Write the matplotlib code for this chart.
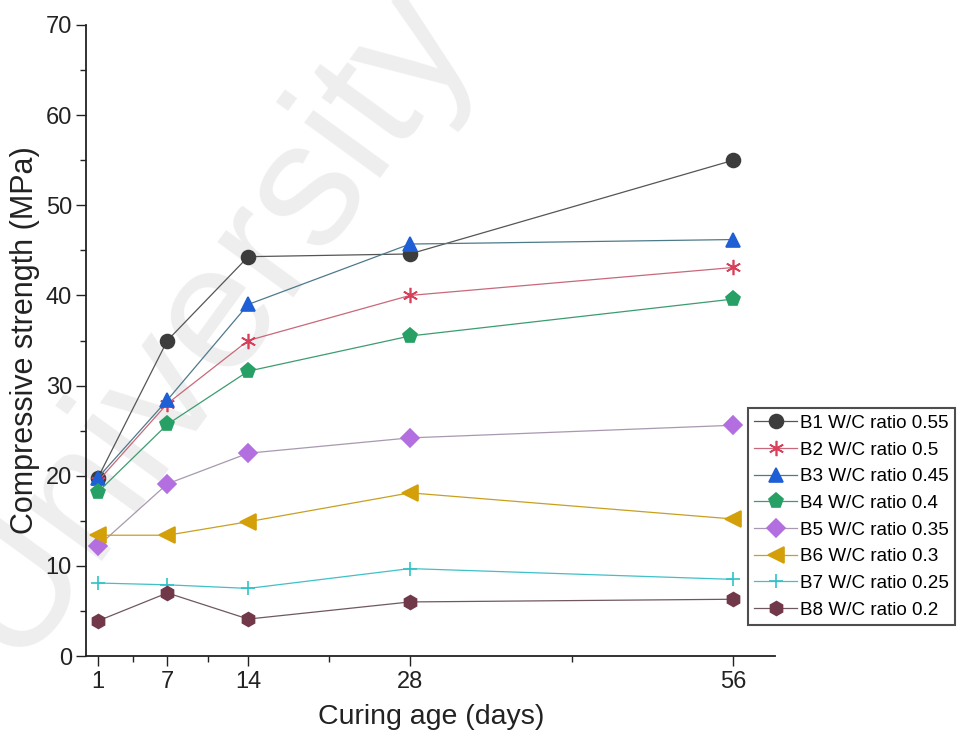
import numpy as np
import matplotlib
matplotlib.use("Agg")
import matplotlib.pyplot as plt

plt.rcParams['font.family'] = ['Liberation Sans', 'DejaVu Sans']

# curing age (days)
days = [1, 7, 14, 28, 56]
day_labels = ['1', '7', '14', '28', '56']

# compressive strength (MPa)
b1 = [19.8, 35.0, 44.3, 44.6, 55.0]
b2 = [19.4, 28.0, 35.0, 40.0, 43.1]
b3 = [19.8, 28.4, 39.0, 45.7, 46.2]
b4 = [18.2, 25.7, 31.6, 35.5, 39.6]
b5 = [12.2, 19.1, 22.5, 24.2, 25.6]
b6 = [13.4, 13.4, 14.9, 18.1, 15.2]
b7 = [8.1, 7.9, 7.5, 9.7, 8.5]
b8 = [3.9, 7.0, 4.1, 6.0, 6.3]

labels = ['B1 W/C ratio 0.55', 'B2 W/C ratio 0.5', 'B3 W/C ratio 0.45',
          'B4 W/C ratio 0.4', 'B5 W/C ratio 0.35', 'B6 W/C ratio 0.3',
          'B7 W/C ratio 0.25', 'B8 W/C ratio 0.2']

series = [b1, b2, b3, b4, b5, b6, b7, b8]
markers = ['o', (6, 2, 0), '^', 'p', 'D', '<', '+', 'h']
mcolors = ['#3c3c3c', '#d8405a', '#1e5fd6', '#27a065', '#b36fe0', '#d4a00a', '#2fc2c8', '#703848']
lcolors = ['#555555', '#c8687a', '#4d7a8a', '#3c9c70', '#a898b0', '#c8a020', '#40c0c8', '#705860']
msizes = [10, 11, 10, 11, 9, 11, 10, 10]

fig = plt.figure(figsize=(9.6, 7.46), dpi=100, facecolor='w')
ax = fig.add_axes([0.0901, 0.1206, 0.7172, 0.8459])
ax.patch.set_alpha(0)

# watermark behind everything
fig.text(0.215, 0.57, 'University', rotation=54, fontsize=128, color='#eeeeee',
         ha='center', va='center', zorder=-1)

for y, m, mc, lc, ms, lab in zip(series, markers, mcolors, lcolors, msizes, labels):
    ax.plot(days, y, color=lc, lw=0.9, marker=m, markersize=ms,
            markerfacecolor=mc, markeredgecolor=mc, markeredgewidth=1.2, label=lab)

ax.set_xlim(0, 59.6)
ax.set_ylim(0, 70)
ax.set_xticks(days)
ax.set_xticklabels(day_labels)
ax.set_xticks([4, 10.5, 21, 42], minor=True)
ax.set_yticks(np.arange(0, 71, 10))
ax.set_yticks(np.arange(5, 70, 10), minor=True)
ax.tick_params(which='major', direction='out', length=7, width=1, labelsize=17, colors='#222222')
ax.tick_params(which='minor', direction='out', length=4, width=1, colors='#222222')

for s in ('top', 'right'):
    ax.spines[s].set_visible(False)
for s in ('left', 'bottom'):
    ax.spines[s].set_linewidth(1.3)
    ax.spines[s].set_color('#222222')

ax.set_xlabel('Curing age (days)', fontsize=20.5, color='#222222', labelpad=8)
ax.set_ylabel('Compressive strength (MPa)', fontsize=22, color='#222222', labelpad=4)

leg = ax.legend(loc='upper left', bbox_to_anchor=(0.779, 0.453), bbox_transform=fig.transFigure,
                fontsize=13.6, frameon=True, fancybox=False, handlelength=2.25,
                handletextpad=0.15, labelspacing=0.5, borderpad=0.35, borderaxespad=0)
leg.get_frame().set_edgecolor('#222222')
leg.get_frame().set_linewidth(1.5)

plt.savefig('out.png', dpi=100)
